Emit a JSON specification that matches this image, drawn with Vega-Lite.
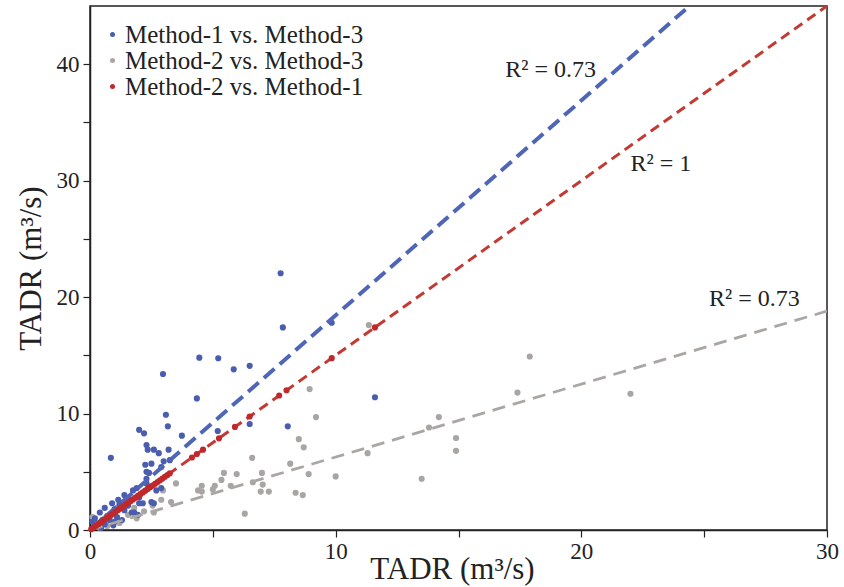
{
  "$schema": "https://vega.github.io/schema/vega-lite/v6.json",
  "width": 737,
  "height": 524,
  "autosize": {"type": "none"},
  "padding": {"left": 90, "top": 6, "right": 17, "bottom": 57},
  "background": "white",
  "config": {
    "font": "Liberation Serif",
    "view": {"stroke": "#222", "strokeWidth": 1.5},
    "axis": {
      "grid": false,
      "domainColor": "#222",
      "domainWidth": 1.5,
      "tickColor": "#222",
      "tickWidth": 1.2,
      "tickSize": 7,
      "labelFont": "Liberation Serif",
      "labelFontSize": 23,
      "labelColor": "#222",
      "titleFont": "Liberation Serif",
      "titleFontSize": 31,
      "titleFontWeight": "normal",
      "titleColor": "#222",
      "labelOverlap": false,
      "labelFlush": false
    },
    "legend": {
      "labelFont": "Liberation Serif",
      "labelFontSize": 25,
      "labelColor": "#222",
      "labelLimit": 500
    }
  },
  "datasets": {
    "pts": [
      {"series": "Method-1 vs. Method-3", "x": 7.76, "y": 22.05},
      {"series": "Method-1 vs. Method-3", "x": 7.85, "y": 17.4},
      {"series": "Method-1 vs. Method-3", "x": 2.97, "y": 13.4},
      {"series": "Method-1 vs. Method-3", "x": 4.45, "y": 14.8},
      {"series": "Method-1 vs. Method-3", "x": 5.22, "y": 14.75},
      {"series": "Method-1 vs. Method-3", "x": 5.85, "y": 13.8},
      {"series": "Method-1 vs. Method-3", "x": 6.5, "y": 14.1},
      {"series": "Method-1 vs. Method-3", "x": 4.35, "y": 11.3},
      {"series": "Method-1 vs. Method-3", "x": 3.09, "y": 9.9},
      {"series": "Method-1 vs. Method-3", "x": 3.17, "y": 8.9},
      {"series": "Method-1 vs. Method-3", "x": 2.0, "y": 8.6},
      {"series": "Method-1 vs. Method-3", "x": 2.2, "y": 8.3},
      {"series": "Method-1 vs. Method-3", "x": 3.74, "y": 8.1},
      {"series": "Method-1 vs. Method-3", "x": 5.2, "y": 8.5},
      {"series": "Method-1 vs. Method-3", "x": 6.5, "y": 9.1},
      {"series": "Method-1 vs. Method-3", "x": 8.05, "y": 8.9},
      {"series": "Method-1 vs. Method-3", "x": 11.6, "y": 11.4},
      {"series": "Method-1 vs. Method-3", "x": 9.84, "y": 17.8},
      {"series": "Method-1 vs. Method-3", "x": 0.85, "y": 6.2},
      {"series": "Method-1 vs. Method-3", "x": 2.3, "y": 7.3},
      {"series": "Method-1 vs. Method-3", "x": 2.35, "y": 6.9},
      {"series": "Method-1 vs. Method-3", "x": 2.6, "y": 6.9},
      {"series": "Method-1 vs. Method-3", "x": 2.8, "y": 6.6},
      {"series": "Method-1 vs. Method-3", "x": 3.2, "y": 6.9},
      {"series": "Method-1 vs. Method-3", "x": 2.25, "y": 5.6},
      {"series": "Method-1 vs. Method-3", "x": 2.9, "y": 5.4},
      {"series": "Method-1 vs. Method-3", "x": 3.25, "y": 6.0},
      {"series": "Method-1 vs. Method-3", "x": 2.4, "y": 4.9},
      {"series": "Method-1 vs. Method-3", "x": 2.3, "y": 4.4},
      {"series": "Method-1 vs. Method-3", "x": 2.7, "y": 3.4},
      {"series": "Method-1 vs. Method-3", "x": 2.0, "y": 2.3},
      {"series": "Method-1 vs. Method-3", "x": 2.6, "y": 2.3},
      {"series": "Method-1 vs. Method-3", "x": 1.7, "y": 1.5},
      {"series": "Method-1 vs. Method-3", "x": 1.95, "y": 1.3},
      {"series": "Method-1 vs. Method-3", "x": 2.5, "y": 5.7},
      {"series": "Method-1 vs. Method-3", "x": 2.3, "y": 5.0},
      {"series": "Method-1 vs. Method-3", "x": 2.4, "y": 3.7},
      {"series": "Method-1 vs. Method-3", "x": 2.9, "y": 3.6},
      {"series": "Method-1 vs. Method-3", "x": 1.75, "y": 3.4},
      {"series": "Method-1 vs. Method-3", "x": 1.4, "y": 3.0},
      {"series": "Method-1 vs. Method-3", "x": 1.15, "y": 2.6},
      {"series": "Method-1 vs. Method-3", "x": 0.9, "y": 2.3},
      {"series": "Method-1 vs. Method-3", "x": 0.6, "y": 1.9},
      {"series": "Method-1 vs. Method-3", "x": 0.4, "y": 1.5},
      {"series": "Method-1 vs. Method-3", "x": 0.2, "y": 1.0},
      {"series": "Method-1 vs. Method-3", "x": 0.1, "y": 0.7},
      {"series": "Method-1 vs. Method-3", "x": 2.0, "y": 2.8},
      {"series": "Method-1 vs. Method-3", "x": 2.15, "y": 2.3},
      {"series": "Method-1 vs. Method-3", "x": 2.5, "y": 2.4},
      {"series": "Method-1 vs. Method-3", "x": 1.8, "y": 1.5},
      {"series": "Method-1 vs. Method-3", "x": 1.4, "y": 1.7},
      {"series": "Method-1 vs. Method-3", "x": 1.1, "y": 1.1},
      {"series": "Method-1 vs. Method-3", "x": 0.8, "y": 0.85},
      {"series": "Method-1 vs. Method-3", "x": 1.55, "y": 2.1},
      {"series": "Method-1 vs. Method-3", "x": 0.5, "y": 0.85},
      {"series": "Method-1 vs. Method-3", "x": 1.3, "y": 0.85},
      {"series": "Method-1 vs. Method-3", "x": 1.0, "y": 1.8},
      {"series": "Method-1 vs. Method-3", "x": 0.7, "y": 1.2},
      {"series": "Method-1 vs. Method-3", "x": 0.3, "y": 0.4},
      {"series": "Method-1 vs. Method-3", "x": 0.6, "y": 0.5},
      {"series": "Method-1 vs. Method-3", "x": 1.2, "y": 2.2},
      {"series": "Method-1 vs. Method-3", "x": 1.6, "y": 2.6},
      {"series": "Method-1 vs. Method-3", "x": 0.95, "y": 0.4},
      {"series": "Method-1 vs. Method-3", "x": 0.45, "y": 0.2},
      {"series": "Method-1 vs. Method-3", "x": 1.0, "y": 0.7},
      {"series": "Method-1 vs. Method-3", "x": 1.9, "y": 3.6},
      {"series": "Method-1 vs. Method-3", "x": 2.3, "y": 4.0},
      {"series": "Method-1 vs. Method-3", "x": 3.0, "y": 5.9},
      {"series": "Method-2 vs. Method-3", "x": 8.94, "y": 12.1},
      {"series": "Method-2 vs. Method-3", "x": 9.2, "y": 9.7},
      {"series": "Method-2 vs. Method-3", "x": 8.5, "y": 7.8},
      {"series": "Method-2 vs. Method-3", "x": 8.7, "y": 7.1},
      {"series": "Method-2 vs. Method-3", "x": 6.6, "y": 6.2},
      {"series": "Method-2 vs. Method-3", "x": 11.3, "y": 6.6},
      {"series": "Method-2 vs. Method-3", "x": 8.9, "y": 4.8},
      {"series": "Method-2 vs. Method-3", "x": 10.0, "y": 4.6},
      {"series": "Method-2 vs. Method-3", "x": 8.15, "y": 5.7},
      {"series": "Method-2 vs. Method-3", "x": 7.0, "y": 4.9},
      {"series": "Method-2 vs. Method-3", "x": 5.97, "y": 4.8},
      {"series": "Method-2 vs. Method-3", "x": 5.45, "y": 4.9},
      {"series": "Method-2 vs. Method-3", "x": 6.63, "y": 4.1},
      {"series": "Method-2 vs. Method-3", "x": 7.03, "y": 3.9},
      {"series": "Method-2 vs. Method-3", "x": 6.95, "y": 3.3},
      {"series": "Method-2 vs. Method-3", "x": 7.28, "y": 3.3},
      {"series": "Method-2 vs. Method-3", "x": 5.73, "y": 3.8},
      {"series": "Method-2 vs. Method-3", "x": 5.35, "y": 4.3},
      {"series": "Method-2 vs. Method-3", "x": 5.08, "y": 3.8},
      {"series": "Method-2 vs. Method-3", "x": 4.55, "y": 3.8},
      {"series": "Method-2 vs. Method-3", "x": 4.55, "y": 3.3},
      {"series": "Method-2 vs. Method-3", "x": 5.0, "y": 3.5},
      {"series": "Method-2 vs. Method-3", "x": 8.37, "y": 3.2},
      {"series": "Method-2 vs. Method-3", "x": 8.66, "y": 3.0},
      {"series": "Method-2 vs. Method-3", "x": 6.3, "y": 1.4},
      {"series": "Method-2 vs. Method-3", "x": 17.9, "y": 14.9},
      {"series": "Method-2 vs. Method-3", "x": 17.4, "y": 11.8},
      {"series": "Method-2 vs. Method-3", "x": 14.2, "y": 9.7},
      {"series": "Method-2 vs. Method-3", "x": 13.8, "y": 8.8},
      {"series": "Method-2 vs. Method-3", "x": 14.9, "y": 7.9},
      {"series": "Method-2 vs. Method-3", "x": 14.9, "y": 6.8},
      {"series": "Method-2 vs. Method-3", "x": 13.5, "y": 4.4},
      {"series": "Method-2 vs. Method-3", "x": 22.0, "y": 11.7},
      {"series": "Method-2 vs. Method-3", "x": 11.35, "y": 17.6},
      {"series": "Method-2 vs. Method-3", "x": 3.5, "y": 4.0},
      {"series": "Method-2 vs. Method-3", "x": 2.97, "y": 3.4},
      {"series": "Method-2 vs. Method-3", "x": 2.9, "y": 2.6},
      {"series": "Method-2 vs. Method-3", "x": 2.55, "y": 2.1},
      {"series": "Method-2 vs. Method-3", "x": 1.8, "y": 1.9},
      {"series": "Method-2 vs. Method-3", "x": 1.55, "y": 1.3},
      {"series": "Method-2 vs. Method-3", "x": 1.1, "y": 1.9},
      {"series": "Method-2 vs. Method-3", "x": 1.0, "y": 1.5},
      {"series": "Method-2 vs. Method-3", "x": 0.6, "y": 1.0},
      {"series": "Method-2 vs. Method-3", "x": 0.3, "y": 0.6},
      {"series": "Method-2 vs. Method-3", "x": 0.7, "y": 0.35},
      {"series": "Method-2 vs. Method-3", "x": 0.1, "y": 1.1},
      {"series": "Method-2 vs. Method-3", "x": 1.3, "y": 2.3},
      {"series": "Method-2 vs. Method-3", "x": 4.4, "y": 3.4},
      {"series": "Method-2 vs. Method-3", "x": 2.2, "y": 1.6},
      {"series": "Method-2 vs. Method-3", "x": 1.9, "y": 1.0},
      {"series": "Method-2 vs. Method-3", "x": 1.2, "y": 0.6},
      {"series": "Method-2 vs. Method-3", "x": 0.4, "y": 0.2},
      {"series": "Method-2 vs. Method-3", "x": 3.3, "y": 2.4},
      {"series": "Method-2 vs. Method-3", "x": 2.6, "y": 1.5},
      {"series": "Method-2 vs. Method-1", "x": 0.05, "y": 0.075},
      {"series": "Method-2 vs. Method-1", "x": 0.15, "y": 0.225},
      {"series": "Method-2 vs. Method-1", "x": 0.25, "y": 0.375},
      {"series": "Method-2 vs. Method-1", "x": 0.35, "y": 0.525},
      {"series": "Method-2 vs. Method-1", "x": 0.45, "y": 0.675},
      {"series": "Method-2 vs. Method-1", "x": 0.55, "y": 0.825},
      {"series": "Method-2 vs. Method-1", "x": 0.65, "y": 0.975},
      {"series": "Method-2 vs. Method-1", "x": 0.75, "y": 1.125},
      {"series": "Method-2 vs. Method-1", "x": 0.85, "y": 1.275},
      {"series": "Method-2 vs. Method-1", "x": 0.95, "y": 1.425},
      {"series": "Method-2 vs. Method-1", "x": 1.05, "y": 1.575},
      {"series": "Method-2 vs. Method-1", "x": 1.15, "y": 1.725},
      {"series": "Method-2 vs. Method-1", "x": 1.25, "y": 1.875},
      {"series": "Method-2 vs. Method-1", "x": 1.35, "y": 2.025},
      {"series": "Method-2 vs. Method-1", "x": 1.45, "y": 2.175},
      {"series": "Method-2 vs. Method-1", "x": 1.55, "y": 2.325},
      {"series": "Method-2 vs. Method-1", "x": 1.65, "y": 2.475},
      {"series": "Method-2 vs. Method-1", "x": 1.75, "y": 2.625},
      {"series": "Method-2 vs. Method-1", "x": 1.85, "y": 2.775},
      {"series": "Method-2 vs. Method-1", "x": 1.95, "y": 2.925},
      {"series": "Method-2 vs. Method-1", "x": 2.05, "y": 3.075},
      {"series": "Method-2 vs. Method-1", "x": 2.15, "y": 3.225},
      {"series": "Method-2 vs. Method-1", "x": 2.25, "y": 3.375},
      {"series": "Method-2 vs. Method-1", "x": 2.35, "y": 3.525},
      {"series": "Method-2 vs. Method-1", "x": 2.45, "y": 3.675},
      {"series": "Method-2 vs. Method-1", "x": 2.55, "y": 3.825},
      {"series": "Method-2 vs. Method-1", "x": 2.65, "y": 3.975},
      {"series": "Method-2 vs. Method-1", "x": 2.75, "y": 4.125},
      {"series": "Method-2 vs. Method-1", "x": 2.85, "y": 4.275},
      {"series": "Method-2 vs. Method-1", "x": 2.95, "y": 4.425},
      {"series": "Method-2 vs. Method-1", "x": 3.05, "y": 4.575},
      {"series": "Method-2 vs. Method-1", "x": 3.15, "y": 4.725},
      {"series": "Method-2 vs. Method-1", "x": 3.25, "y": 4.875},
      {"series": "Method-2 vs. Method-1", "x": 4.15, "y": 6.225},
      {"series": "Method-2 vs. Method-1", "x": 4.35, "y": 6.525},
      {"series": "Method-2 vs. Method-1", "x": 4.6, "y": 6.9},
      {"series": "Method-2 vs. Method-1", "x": 5.25, "y": 7.875},
      {"series": "Method-2 vs. Method-1", "x": 5.9, "y": 8.85},
      {"series": "Method-2 vs. Method-1", "x": 6.5, "y": 9.75},
      {"series": "Method-2 vs. Method-1", "x": 7.7, "y": 11.55},
      {"series": "Method-2 vs. Method-1", "x": 8.0, "y": 12.0},
      {"series": "Method-2 vs. Method-1", "x": 9.84, "y": 14.76},
      {"series": "Method-2 vs. Method-1", "x": 11.6, "y": 17.4}
    ],
    "fits": [
      {"series": "Method-1 vs. Method-3", "x": 0, "y": 0},
      {"series": "Method-1 vs. Method-3", "x": 24.4, "y": 45},
      {"series": "Method-2 vs. Method-1", "x": 0, "y": 0},
      {"series": "Method-2 vs. Method-1", "x": 30, "y": 45},
      {"series": "Method-2 vs. Method-3", "x": 0, "y": 0},
      {"series": "Method-2 vs. Method-3", "x": 30, "y": 18.8}
    ],
    "labels": [
      {"x": 16.9, "y": 39.5, "text": "R² = 0.73"},
      {"x": 22.0, "y": 31.4, "text": "R² = 1"},
      {"x": 25.2, "y": 19.8, "text": "R² = 0.73"}
    ]
  },
  "encoding": {
    "x": {
      "field": "x", "type": "quantitative",
      "scale": {"domain": [0, 30], "nice": false, "zero": true},
      "axis": {
        "values": [0, 5, 10, 15, 20, 25, 30],
        "labelExpr": "datum.value % 10 == 0 ? datum.label : ''",
        "labelPadding": 3,
        "title": "TADR (m³/s)",
        "titleX": 362,
        "titlePadding": -9
      }
    },
    "y": {
      "field": "y", "type": "quantitative",
      "scale": {"domain": [0, 45], "nice": false, "zero": true},
      "axis": {
        "values": [0, 5, 10, 15, 20, 25, 30, 35, 40],
        "labelExpr": "datum.value % 10 == 0 ? datum.label : ''",
        "labelPadding": 4,
        "title": "TADR (m³/s)",
        "titlePadding": 9
      }
    }
  },
  "layer": [
    {
      "data": {"name": "pts"},
      "transform": [{"filter": "datum.series == 'Method-2 vs. Method-3'"}],
      "mark": {"type": "circle", "size": 38, "opacity": 1},
      "encoding": {
        "color": {
          "field": "series", "type": "nominal",
          "scale": {
            "domain": ["Method-1 vs. Method-3", "Method-2 vs. Method-3", "Method-2 vs. Method-1"],
            "range": ["#4a5dae", "#a8a5a3", "#c0282b"]
          },
          "legend": {
            "title": null,
            "orient": "none",
            "legendX": 10,
            "legendY": 16,
            "symbolType": "circle",
            "symbolSize": 25,
            "symbolStrokeWidth": 0,
            "labelOffset": 0,
            "rowPadding": -1,
            "padding": 0,
            "labelLimit": 500
          }
        }
      }
    },
    {
      "data": {"name": "pts"},
      "transform": [{"filter": "datum.series == 'Method-1 vs. Method-3'"}],
      "mark": {"type": "circle", "size": 38, "opacity": 1},
      "encoding": {"color": {"field": "series", "type": "nominal"}}
    },
    {
      "data": {"name": "fits"},
      "transform": [{"filter": "datum.series == 'Method-2 vs. Method-3'"}],
      "mark": {"type": "line", "clip": true, "color": "#aaa6a3", "strokeWidth": 2.8, "strokeDash": [13, 8]},
      "encoding": {}
    },
    {
      "data": {"name": "fits"},
      "transform": [{"filter": "datum.series == 'Method-1 vs. Method-3'"}],
      "mark": {"type": "line", "clip": true, "color": "#4f66b8", "strokeWidth": 4, "strokeDash": [14, 7]},
      "encoding": {}
    },
    {
      "data": {"name": "fits"},
      "transform": [{"filter": "datum.series == 'Method-2 vs. Method-1'"}],
      "mark": {"type": "line", "clip": true, "color": "#c23a33", "strokeWidth": 3, "strokeDash": [10, 6]},
      "encoding": {}
    },
    {
      "data": {"name": "pts"},
      "transform": [{"filter": "datum.series == 'Method-2 vs. Method-1'"}],
      "mark": {"type": "circle", "size": 38, "opacity": 1},
      "encoding": {"color": {"field": "series", "type": "nominal"}}
    },
    {
      "data": {"name": "labels"},
      "mark": {"type": "text", "align": "left", "baseline": "middle", "font": "Liberation Serif", "fontSize": 24, "color": "#222"},
      "encoding": {"text": {"field": "text"}}
    }
  ]
}
